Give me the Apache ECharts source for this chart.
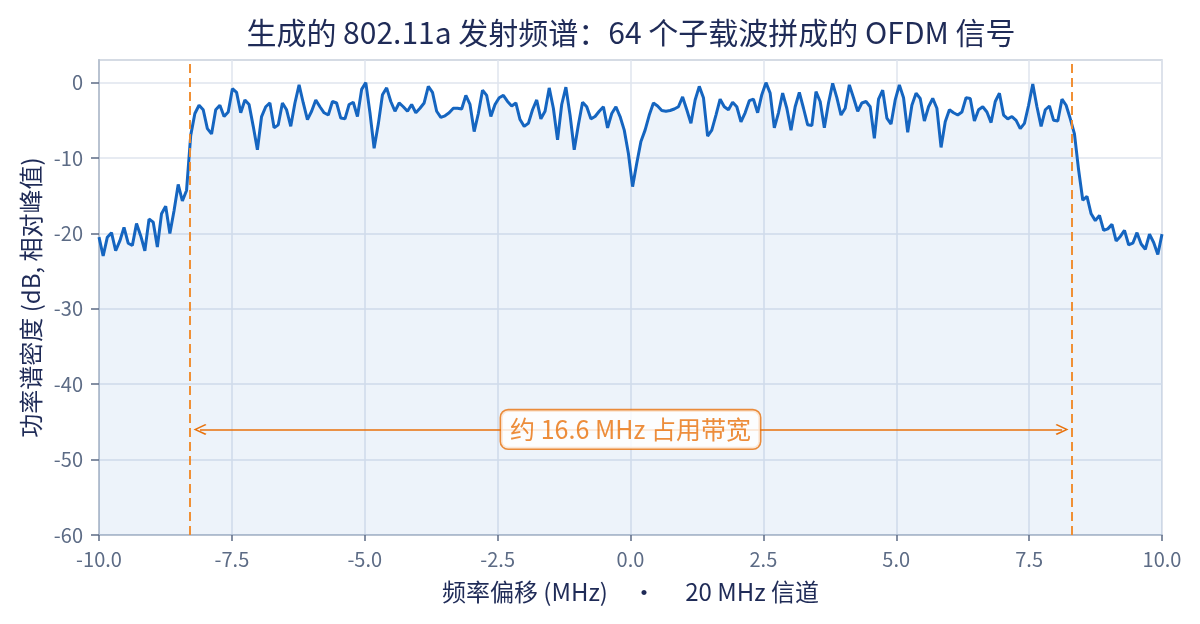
<!DOCTYPE html>
<html>
<head>
<meta charset="utf-8">
<script src="https://cdn.jsdelivr.net/npm/echarts@6/dist/echarts.min.js"></script>
<style>
html,body{margin:0;padding:0;background:#fff;}
#chart{width:1200px;height:624px;}
</style>
</head>
<body>
<div id="chart"></div>
<script>
// ---- data ----
const titleText = '生成的 802.11a 发射频谱：64 个子载波拼成的 OFDM 信号';
const xAxisName = '频率偏移 (MHz)\u3000·\u3000 20 MHz 信道';
const yAxisName = '功率谱密度 (dB, 相对峰值)';
const freqRange = [-10, 10];          // MHz, sampling grid ends
const xTicks = [-10, -7.5, -5, -2.5, 0, 2.5, 5, 7.5, 10];
const yTicks = [-60, -50, -40, -30, -20, -10, 0];
const bandEdges = [-8.3, 8.3];        // MHz
const bandwidthArrow = [-8.1, 8.12];  // MHz
const bandwidthLevel = -46;           // dB
const bandwidthLabel = '约 16.6 MHz 占用带宽';
const psdDb = [
 -20.5,-23,-20.5,-19.9,-22.3,-21,-19.2,-21.3,-21.6,-18.7,
 -20.3,-22.3,-18.1,-18.5,-21.8,-17.4,-16.4,-20,-17,-13.5,
 -15.7,-14.3,-7,-4.1,-3.0,-3.6,-6.1,-6.8,-3.6,-3.0,
 -4.5,-3.9,-0.8,-1.3,-4.0,-2.3,-2.9,-5.8,-8.9,-4.5,
 -3.2,-2.7,-6.0,-5.6,-2.7,-3.6,-5.8,-2.7,-0.3,-2.7,
 -4.9,-3.8,-2.3,-3.2,-4.0,-4.3,-2.5,-2.7,-4.7,-4.8,
 -2.9,-2.6,-4.5,-0.9,0,-4,-8.7,-5.5,-1.6,-0.7,
 -2.5,-3.8,-2.7,-3.2,-3.8,-2.9,-4.0,-3.4,-2.7,-0.5,
 -1.3,-3.8,-4.6,-4.4,-4.0,-3.4,-3.4,-3.5,-1.7,-2.9,
 -6.5,-4.1,-1.0,-1.7,-4.5,-2.9,-2.0,-1.7,-2.5,-3.1,
 -2.7,-4.9,-5.8,-5.4,-3.6,-2.3,-4.8,-3.8,-0.7,-3.4,
 -7.6,-2.9,-0.6,-4.3,-8.9,-5.6,-2.6,-3.2,-4.8,-4.5,
 -3.8,-3.2,-6.0,-4.1,-3.2,-4.5,-6.3,-9.4,-13.8,-10.7,
 -7.8,-6.3,-4.3,-2.7,-3.1,-3.7,-3.8,-3.7,-3.5,-3.2,
 -1.9,-3.6,-5.4,-2.3,-0.5,-2.0,-7.1,-6.3,-4.3,-2.2,
 -3.2,-3.6,-2.6,-3.2,-5.2,-4.0,-2.4,-2.2,-4.0,-1.6,
 0,-1.4,-6.0,-4.0,-1.4,-3.4,-6.3,-3.2,-1.3,-3.4,
 -5.6,-5.7,-1.2,-2.5,-6.0,-2.7,-0.1,-2.0,-4.3,-3.4,
 -0.3,-2.0,-3.8,-2.7,-2.5,-3.2,-7.4,-2.2,-1.0,-4.7,
 -5.5,-2.3,-0.3,-2.0,-6.6,-3.0,-1.4,-2.1,-5.1,-3.2,
 -2.1,-3.4,-8.6,-5.2,-3.6,-4.0,-4.3,-3.9,-2.0,-2.1,
 -5.1,-3.6,-3.2,-3.9,-5.3,-2.5,-1.4,-4.3,-4.8,-4.5,
 -5.0,-6.1,-5.4,-3.0,-0.2,-3.2,-5.8,-3.6,-3.1,-5.0,
 -5.1,-2.2,-3.0,-4.8,-6.8,-11.6,-15.6,-15.1,-17.4,-18.3,
 -17.6,-19.6,-19.4,-18.8,-21.0,-20.4,-19.6,-21.5,-21.3,-19.9,
 -21.4,-22.1,-20.1,-21.2,-22.8,-20.1
];

// ---- build ----
const n = psdDb.length;
const step = (freqRange[1] - freqRange[0]) / (n - 1);
const seriesData = psdDb.map((v, i) => [freqRange[0] + i * step, v]);

const FONT = '"Noto Sans CJK SC", "Noto Sans", sans-serif';
const navy = '#1f2b57';
const gray = '#5c6b85';
const orange = '#e8710a';
const chevron = 'path://M5,0L10,9L9,10L5,2.6L1,10L0,9Z';

const chart = echarts.init(document.getElementById('chart'), null, {renderer: 'canvas'});
chart.setOption({
  animation: false,
  backgroundColor: '#ffffff',
  textStyle: {fontFamily: FONT},
  graphic: [{
    type: 'text', x: 631, y: 33,
    style: {text: titleText, fill: navy, font: '30px ' + FONT,
      align: 'center', verticalAlign: 'middle', textAlign: 'center', textVerticalAlign: 'middle'}
  }],
  grid: {left: 99, right: 38, top: 60, bottom: 89, show: true, borderColor: '#c7cfdb', borderWidth: 1.5, backgroundColor: 'transparent'},
  xAxis: {
    type: 'value', min: freqRange[0], max: freqRange[1], interval: 2.5,
    name: xAxisName, nameLocation: 'middle', nameGap: 45,
    nameTextStyle: {color: navy, fontSize: 24, fontFamily: FONT},
    axisLine: {show: true, onZero: false, lineStyle: {color: '#b9c3d1', width: 2}},
    axisTick: {show: true, length: 6, lineStyle: {color: '#5c6b85', width: 1.5}, customValues: xTicks},
    axisLabel: {color: gray, fontSize: 20, margin: 14, fontFamily: FONT, customValues: xTicks,
      formatter: v => Number(v).toFixed(1)},
    splitLine: {show: true, lineStyle: {color: '#dfe5ee', width: 1.5}}
  },
  yAxis: {
    type: 'value', min: -60, max: 3, interval: 10,
    name: yAxisName, nameLocation: 'middle', nameGap: 53,
    nameTextStyle: {color: navy, fontSize: 24, fontFamily: FONT},
    axisLine: {show: true, onZero: false, lineStyle: {color: '#b9c3d1', width: 2}},
    axisTick: {show: true, length: 8, lineStyle: {color: '#5c6b85', width: 1.5}, customValues: yTicks},
    axisLabel: {color: gray, fontSize: 20, margin: 16, fontFamily: FONT, customValues: yTicks,
      formatter: v => String(v)},
    splitLine: {show: true, lineStyle: {color: '#dfe5ee', width: 1.5}}
  },
  series: [{
    type: 'line',
    data: seriesData,
    showSymbol: false,
    symbol: 'none',
    lineStyle: {color: '#1565c0', width: 3},
    areaStyle: {color: 'rgba(21,101,192,0.11)', origin: 'start'},
    z: 3,
    markLine: {
      silent: true, symbol: 'none',
      label: {show: false},
      lineStyle: {color: '#f08a2a', width: 2, type: [9, 5], opacity: 0.95},
      data: bandEdges.map(x => ({xAxis: x}))
    }
  }, {
    type: 'line',
    data: [],
    markLine: {
      silent: true,
      symbol: [chevron, chevron], symbolSize: [11, 13],
      label: {show: false},
      lineStyle: {color: orange, width: 1.6, type: 'solid'},
      data: [[{coord: [bandwidthArrow[0], bandwidthLevel]}, {coord: [bandwidthArrow[1], bandwidthLevel]}]]
    }
  }, {
    type: 'scatter',
    data: [[0, bandwidthLevel]],
    symbolSize: 0,
    z: 5,
    label: {
      show: true, position: 'inside', formatter: bandwidthLabel,
      color: orange, fontSize: 25, fontFamily: FONT,
      backgroundColor: '#ffffff', borderColor: orange, borderWidth: 1.6, borderRadius: 7,
      padding: [7, 9, 6, 9]
    }
  }]
});
</script>
</body>
</html>
